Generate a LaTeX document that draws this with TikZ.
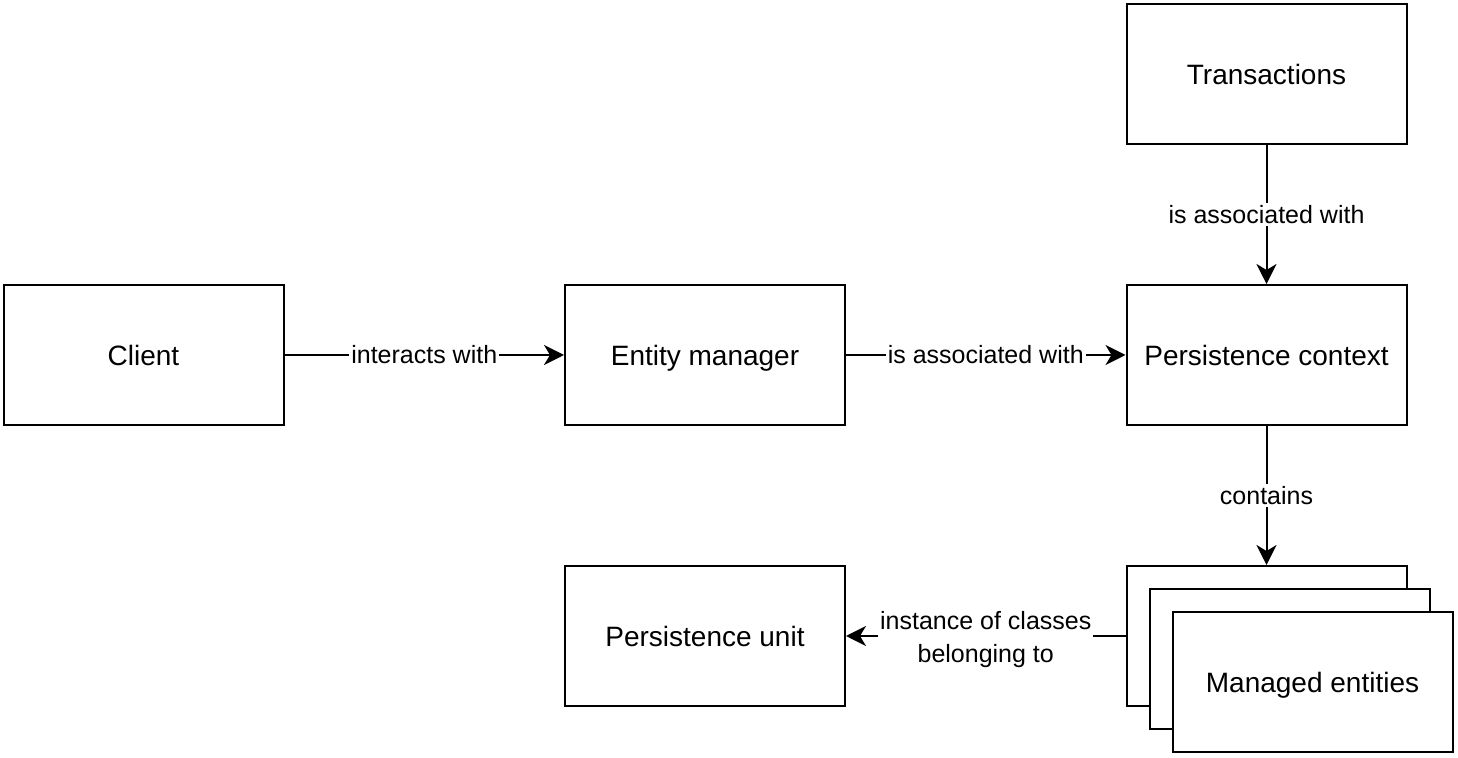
\documentclass[tikz,border=0pt]{standalone}
\usepackage{fontspec}
\setmainfont{Liberation Sans}
\usetikzlibrary{arrows.meta}

\begin{document}
\begin{tikzpicture}[x=0.5pt,y=-0.5pt]
\tikzset{
    box/.style={draw, line width=1pt, fill=white, minimum width=140pt, minimum height=70pt,
        inner sep=0pt, text height=12pt, text depth=1pt, font=\fontsize{14}{16}\selectfont},
    link/.style={line width=1pt, -{Stealth[length=10pt,width=10pt,inset=3pt]}},
    lbl/.style={fill=white, inner sep=1pt, font=\fontsize{12.5}{16.5}\selectfont, align=center}
}
\useasboundingbox (0,0) rectangle (1458,758);
\node[box] (client) at (143.5,355) {Client};
\node[box] (em) at (705,355) {Entity manager};
\node[box] (pc) at (1266.5,355) {Persistence context};
\node[box] (tx) at (1266.5,74) {Transactions};
\node[box] (pu) at (705,636) {Persistence unit};
\node[box] (ent1) at (1266.5,636) {};
\node[box] (ent2) at (1289.5,659) {};
\node[box] (ent3) at (1312.5,682) {Managed entities};

\draw[link] (client) -- node[lbl] {interacts with} (em);
\draw[link] (em) -- node[lbl] {is associated with} (pc);
\draw[link] (tx) -- node[lbl] {is associated with} (pc);
\draw[link] (pc) -- node[lbl] {contains} (ent1);
\draw[link] (ent1) -- node[lbl, yshift=-2pt] {instance of classes\\belonging to} (pu);
\end{tikzpicture}
\end{document}
